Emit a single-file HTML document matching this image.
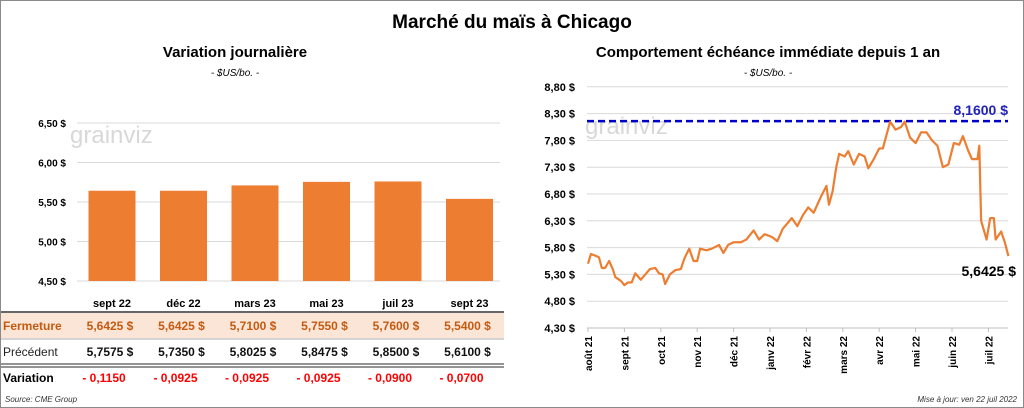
<!DOCTYPE html>
<html><head><meta charset="utf-8"><style>
body{margin:0;width:1024px;height:408px;overflow:hidden;background:#fff;font-family:"Liberation Sans",sans-serif}
#frame{position:absolute;left:0;top:0;width:1022px;height:406px;border:1px solid #8a8a8a}
svg{position:absolute;left:0;top:0}
</style></head><body>
<div id="frame"></div>
<svg id="s" width="1024" height="408">
<text x="512" y="28" text-anchor="middle" font-size="19" font-weight="bold">Marché du maïs à Chicago</text>
<text x="235" y="57" text-anchor="middle" font-size="15" font-weight="bold">Variation  journalière</text>
<text x="235" y="76" text-anchor="middle" font-size="10" font-style="italic">- $US/bo. -</text>
<text x="768" y="57" text-anchor="middle" font-size="15" font-weight="bold">Comportement  échéance immédiate  depuis 1 an</text>
<text x="768" y="76" text-anchor="middle" font-size="10" font-style="italic">- $US/bo. -</text>
<text x="70" y="143" font-size="24" fill="#d8d8d8">grainviz</text>
<text x="585" y="134" font-size="24" fill="#d8d8d8">grainviz</text>
<g id="left"></g><g id="table"></g><g id="right"></g>
<text x="5" y="402" font-size="8" font-style="italic" fill="#333">Source: CME Group</text>
<text x="1017" y="402" text-anchor="end" font-size="8" font-style="italic" fill="#333">Mise à jour: ven 22 juil 2022</text>
</svg>
<script>
const contracts=["sept 22","déc 22","mars 23","mai 23","juil 23","sept 23"];
const closeVals=[5.6425,5.6425,5.71,5.755,5.76,5.54];
const prevVals=[5.7575,5.735,5.8025,5.8475,5.85,5.61];
const leftTicks=[4.5,5.0,5.5,6.0,6.5];
const rightTicks=[4.3,4.8,5.3,5.8,6.3,6.8,7.3,7.8,8.3,8.8];
const monthLabels=["août 21","sept 21","oct 21","nov 21","déc 21","janv 22","févr 22","mars 22","avr 22","mai 22","juin 22","juil 22"];
const pxMonths=[0,0.08,0.2,0.3,0.38,0.47,0.58,0.68,0.75,0.9,1.0,1.1,1.2,1.3,1.45,1.55,1.7,1.85,1.95,2.05,2.12,2.25,2.4,2.55,2.65,2.78,2.9,3.0,3.08,3.25,3.4,3.6,3.72,3.85,4.0,4.2,4.35,4.55,4.7,4.85,5.05,5.2,5.35,5.6,5.75,5.9,6.05,6.2,6.4,6.55,6.62,6.72,6.82,6.9,7.05,7.15,7.3,7.45,7.6,7.7,7.85,8.0,8.1,8.3,8.45,8.6,8.7,8.85,9.0,9.15,9.3,9.45,9.6,9.75,9.9,10.05,10.2,10.3,10.45,10.55,10.7,10.75,10.8,10.95,11.05,11.15,11.2,11.35,11.45,11.55];
const prices=[5.50,5.68,5.65,5.62,5.42,5.42,5.55,5.40,5.25,5.18,5.10,5.15,5.15,5.32,5.20,5.28,5.40,5.42,5.32,5.30,5.12,5.30,5.38,5.40,5.60,5.78,5.55,5.55,5.78,5.75,5.78,5.85,5.70,5.85,5.90,5.90,5.95,6.12,5.95,6.05,6.00,5.92,6.15,6.35,6.20,6.40,6.55,6.45,6.75,6.95,6.60,6.85,7.30,7.55,7.50,7.60,7.35,7.55,7.50,7.28,7.45,7.65,7.65,8.15,8.00,8.05,8.15,7.85,7.75,7.95,7.95,7.80,7.70,7.30,7.35,7.75,7.72,7.88,7.60,7.45,7.45,7.70,6.30,5.95,6.35,6.35,5.95,6.10,5.90,5.6425];
const highVal=8.16;
const NS="http://www.w3.org/2000/svg";
function mk(p,t,a,txt){const e=document.createElementNS(NS,t);for(const k in a)e.setAttribute(k,a[k]);if(txt!=null)e.textContent=txt;p.appendChild(e);return e;}
const fr=v=>v.toFixed(4).replace('.',',');
// left chart
const L=document.getElementById('left');
const ly=v=>281-(v-4.5)*79, lx=i=>112+i*71.5;
leftTicks.forEach(t=>{
 const g=mk(L,'line',{x1:77,x2:500,y1:ly(t),y2:ly(t),stroke:'#d9d9d9'});
 
 const tx=mk(L,'text',{x:66,y:ly(t)+4,'text-anchor':'end','font-size':10,'font-weight':'bold'},t.toFixed(2).replace('.',',')+' $');
 
});
closeVals.forEach((v,i)=>{
 const r=mk(L,'rect',{x:lx(i)-23.5,y:ly(v),width:47,height:ly(4.5)-ly(v),fill:'#ed7d31'});
 
});
// table
const T=document.getElementById('table');
const rb=mk(T,'rect',{x:1,y:313,width:503,height:25,fill:'#fbe5d6'});

[[312,'#333',1.5],[339,'#aaa',1],[364,'#555',1.2],[367,'#555',1.2]].forEach(l=>{
 const e=mk(T,'line',{x1:1,x2:504,y1:l[0],y2:l[0],stroke:l[1],'stroke-width':l[2]});
 
});
const rl=[['Fermeture',330,'#c55a11','bold'],['Précédent',356,'#222','normal'],['Variation',382,'#000','bold']];
rl.forEach(r=>{const e=mk(T,'text',{x:3,y:r[1],'font-size':12,fill:r[2],'font-weight':r[3]},r[0]);
 });
contracts.forEach((c,i)=>{
 const x=lx(i);
 let e=mk(T,'text',{x:x,y:307,'text-anchor':'middle','font-size':11,'font-weight':'bold'},c);
 
 e=mk(T,'text',{x:x-2,y:330,'text-anchor':'middle','font-size':12,'font-weight':'bold',fill:'#c55a11','xml:space':'preserve'},fr(closeVals[i])+'  $');
 
 e=mk(T,'text',{x:x-2,y:356,'text-anchor':'middle','font-size':12,'font-weight':'bold',fill:'#111','xml:space':'preserve'},fr(prevVals[i])+'  $');
 
 e=mk(T,'text',{x:x-8,y:382,'text-anchor':'middle','font-size':12,'font-weight':'bold',fill:'#ff0000'},'- '+fr(Math.abs(closeVals[i]-prevVals[i])));
 
});
// right chart
const R=document.getElementById('right');
const ry=v=>328-(v-4.3)*53.6, rx=m=>588+m*36.4;
rightTicks.forEach(t=>{
 const g=mk(R,'line',{x1:587,x2:1008,y1:ry(t),y2:ry(t),stroke:'#d9d9d9'});
 
 const tx=mk(R,'text',{x:575,y:ry(t)+4,'text-anchor':'end','font-size':11,'font-weight':'bold'},t.toFixed(2).replace('.',',')+' $');
 
});
const ax=mk(R,'line',{x1:587,x2:1008,y1:328,y2:328,stroke:'#bfbfbf'});

monthLabels.forEach((m,i)=>{
 const tk=mk(R,'line',{x1:rx(i),x2:rx(i),y1:328,y2:332,stroke:'#bfbfbf'});
 
 const t=mk(R,'text',{transform:`translate(${rx(i)+4},336) rotate(-90)`,'text-anchor':'end','font-size':10,'font-weight':'bold'},m);
 
});
const hl=mk(R,'line',{x1:587,x2:1008,y1:ry(highVal),y2:ry(highVal),stroke:'#0000cc','stroke-width':2.5,'stroke-dasharray':'7,4'});

const ht=mk(R,'text',{x:1008,y:ry(highVal)-6,'text-anchor':'end','font-size':14,'font-weight':'bold',fill:'#2222bb'},fr(highVal)+' $');

const pl=mk(R,'polyline',{points:pxMonths.map((m,i)=>rx(m)+','+ry(prices[i])).join(' '),fill:'none',stroke:'#ed7d31','stroke-width':2.2,'stroke-linejoin':'round'});

const lt=mk(R,'text',{x:1016,y:ry(prices[prices.length-1])+20,'text-anchor':'end','font-size':14,'font-weight':'bold'},fr(prices[prices.length-1])+' $');

</script>
</body></html>
